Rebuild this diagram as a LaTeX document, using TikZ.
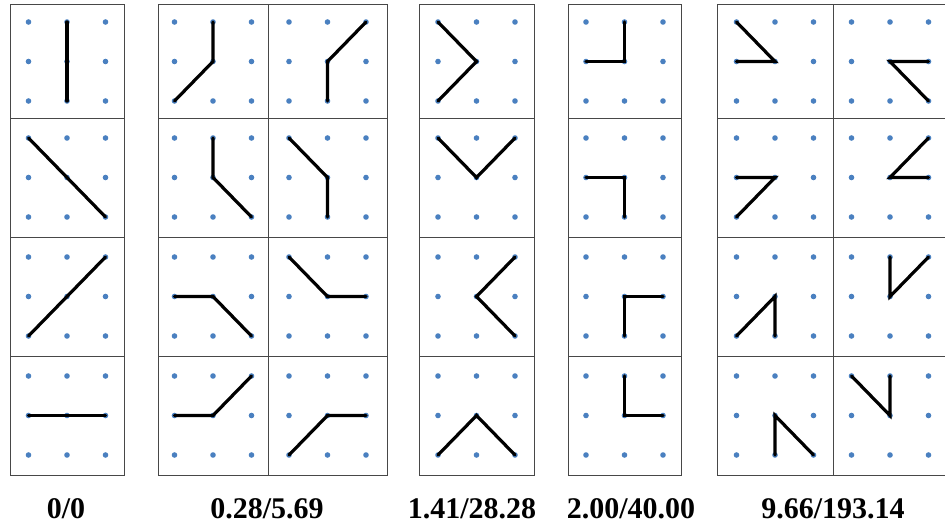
\documentclass[tikz,border=0pt]{standalone}
\usepackage{fontspec}
\setmainfont{Liberation Serif}
\definecolor{dotblue}{RGB}{74,128,192}
% one 3x3 dot cell: x, width, y, height, first end, second end (end = column/row digits)
\newcommand{\motif}[6]{%
  \draw[cellframe] (#1,#3) rectangle ++(#2,#4);
  \foreach \c in {0,1,2}
    \foreach \r in {0,1,2}
      \coordinate (p\c\r) at ({#1+#2/2+38.5*(\c-1)},{#3+#4/2+39.5*(\r-1)});
  \foreach \c in {0,1,2}
    \foreach \r in {0,1,2}
      \fill[gridpt] (p\c\r) circle (2.8);
  \draw[motifline] (p#5) -- (p11) -- (p#6);
}
\begin{document}
\begin{tikzpicture}[x=1pt,y=-1pt,
  cellframe/.style={draw=black!72,line width=1pt},
  gridpt/.style={fill=dotblue},
  motifline/.style={black,line width=3.2pt,line cap=round},
  tag/.style={anchor=base,font={\fontsize{30}{32}\selectfont\bfseries}}]
  \useasboundingbox (0,0) rectangle (945,527);
  % 0/0
  \motif{10}{114}{5}{113}{10}{12}
  \motif{10}{114}{118}{119}{00}{22}
  \motif{10}{114}{237}{119}{02}{20}
  \motif{10}{114}{356}{119}{01}{21}
  % 0.28/5.69
  \motif{158}{110}{5}{113}{10}{02}
  \motif{158}{110}{118}{119}{10}{22}
  \motif{158}{110}{237}{119}{01}{22}
  \motif{158}{110}{356}{119}{01}{20}
  \motif{268}{119}{5}{113}{20}{12}
  \motif{268}{119}{118}{119}{00}{12}
  \motif{268}{119}{237}{119}{00}{21}
  \motif{268}{119}{356}{119}{02}{21}
  % 1.41/28.28
  \motif{419}{115}{5}{113}{00}{02}
  \motif{419}{115}{118}{119}{00}{20}
  \motif{419}{115}{237}{119}{20}{22}
  \motif{419}{115}{356}{119}{02}{22}
  % 2.00/40.00
  \motif{568}{113}{5}{113}{10}{01}
  \motif{568}{113}{118}{119}{01}{12}
  \motif{568}{113}{237}{119}{21}{12}
  \motif{568}{113}{356}{119}{10}{21}
  % 9.66/193.14
  \motif{717}{116}{5}{113}{00}{01}
  \motif{717}{116}{118}{119}{01}{02}
  \motif{717}{116}{237}{119}{02}{12}
  \motif{717}{116}{356}{119}{12}{22}
  \motif{833}{114}{5}{113}{21}{22}
  \motif{833}{114}{118}{119}{20}{21}
  \motif{833}{114}{237}{119}{10}{20}
  \motif{833}{114}{356}{119}{00}{10}
  % scores
  \node[tag] (s1) at (66,518) {0/0};
  \node[tag] (s2) at (267,518) {0.28/5.69};
  \node[tag] (s3) at (472,518) {1.41/28.28};
  \node[tag] (s4) at (631,518) {2.00/40.00};
  \node[tag] (s5) at (833,518) {9.66/193.14};
\end{tikzpicture}
\end{document}
